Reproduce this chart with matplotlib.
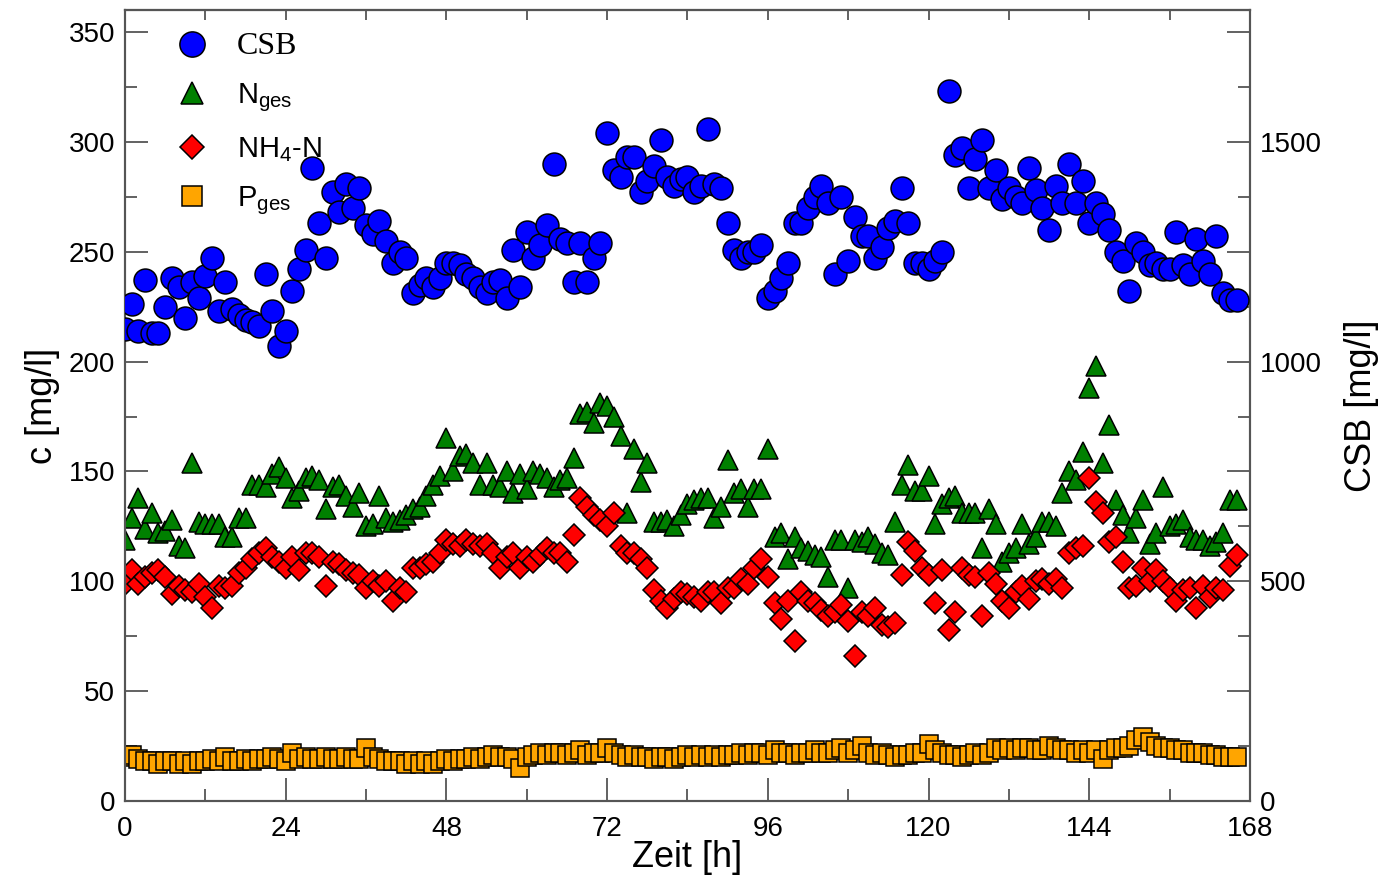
import numpy as np
import matplotlib
matplotlib.use('Agg')
import matplotlib.pyplot as plt
from matplotlib.ticker import MultipleLocator, FuncFormatter

plt.rcParams['font.family'] = ['Liberation Sans', 'DejaVu Sans']
plt.rcParams['mathtext.fontset'] = 'custom'
plt.rcParams['mathtext.rm'] = 'Liberation Sans'
plt.rcParams['mathtext.it'] = 'Liberation Sans:italic'
plt.rcParams['mathtext.bf'] = 'Liberation Sans:bold'

# CSB in mg/l (rechte Achse), stündlich ab 0 h
csb = [1075, 1130, 1070, 1185, 1065, 1065, 1125, 1190, 1170, 1100,
       1180, 1145, 1195, 1235, 1115, 1180, 1120, 1105, 1095, 1090,
       1080, 1200, 1115, 1035, 1070, 1160, 1210, 1255, 1440, 1315,
       1235, 1385, 1340, 1405, 1350, 1395, 1310, 1290, 1320, 1275,
       1225, 1250, 1235, 1155, 1175, 1190, 1170, 1190, 1225, 1225,
       1220, 1200, 1190, 1170, 1155, 1180, 1185, 1145, 1255, 1170,
       1295, 1235, 1265, 1310, 1450, 1280, 1270, 1180, 1270, 1180,
       1235, 1270, 1520, 1435, 1420, 1465, 1465, 1385, 1410, 1445,
       1505, 1420, 1400, 1415, 1420, 1385, 1400, 1530, 1405, 1395,
       1315, 1255, 1235, 1250, 1250, 1265, 1145, 1160, 1190, 1225,
       1315, 1315, 1350, 1375, 1400, 1360, 1200, 1375, 1230, 1330,
       1285, 1285, 1235, 1260, 1305, 1320, 1395, 1315, 1225, 1225,
       1210, 1230, 1250, 1615, 1470, 1485, 1395, 1460, 1505, 1395,
       1435, 1370, 1395, 1375, 1360, 1440, 1390, 1350, 1300, 1400,
       1360, 1450, 1360, 1410, 1315, 1360, 1335, 1300, 1250, 1230,
       1160, 1270, 1250, 1220, 1225, 1210, 1210, 1295, 1220, 1200,
       1280, 1230, 1200, 1285, 1155, 1140, 1140]

n_ges = [119, 129, 138, 124, 131, 122, 123, 128, 116, 115,
         154, 127, 126, 126, 126, 120, 120, 129, 129, 144,
         144, 143, 149, 152, 147, 138, 141, 147, 148, 146,
         133, 143, 144, 139, 134, 140, 125, 126, 139, 129,
         127, 128, 130, 133, 134, 139, 144, 148, 165, 150,
         157, 158, 154, 144, 154, 144, 143, 150, 140, 149,
         142, 150, 149, 147, 143, 146, 147, 156, 176, 177,
         172, 181, 180, 175, 166, 131, 160, 145, 154, 127,
         127, 128, 125, 130, 135, 137, 138, 138, 129, 134,
         155, 140, 142, 134, 142, 142, 160, 120, 122, 110,
         120, 115, 114, 112, 111, 102, 119, 119, 97, 119,
         118, 120, 117, 113, 112, 127, 144, 153, 141, 141,
         148, 126, 135, 138, 139, 131, 131, 131, 115, 133,
         126, 109, 113, 115, 126, 117, 120, 127, 127, 125,
         140, 150, 146, 159, 188, 198, 154, 171, 137, 130,
         122, 129, 137, 117, 122, 143, 125, 126, 128, 120,
         119, 119, 116, 118, 122, 137, 137]

nh4_n = [99, 105, 99, 102, 104, 105, 102, 94, 98, 96,
         95, 99, 93, 88, 98, 97, 98, 104, 106, 110,
         113, 115, 111, 109, 106, 111, 105, 113, 113, 111,
         98, 109, 108, 105, 104, 103, 97, 100, 98, 100,
         91, 97, 95, 106, 106, 108, 109, 113, 119, 117,
         116, 119, 117, 116, 117, 113, 106, 111, 113, 106,
         111, 109, 112, 115, 113, 113, 109, 121, 138, 134,
         130, 128, 125, 131, 116, 113, 113, 110, 106, 96,
         91, 88, 92, 95, 94, 93, 91, 95, 95, 90,
         97, 97, 101, 99, 106, 110, 102, 90, 83, 91,
         73, 95, 91, 90, 87, 84, 86, 89, 82, 66,
         86, 84, 88, 80, 79, 81, 103, 118, 114, 106,
         103, 90, 105, 78, 86, 106, 103, 102, 84, 104,
         99, 91, 88, 95, 98, 92, 100, 101, 99, 101,
         97, 113, 115, 116, 147, 136, 131, 118, 120, 109,
         97, 98, 106, 100, 105, 100, 97, 91, 96, 97,
         88, 98, 93, 97, 96, 107, 112]

p_ges = [20, 21, 19, 18, 18, 17, 18, 18, 17, 18,
         17, 18, 18, 19, 18, 20, 18, 18, 19, 18,
         19, 19, 20, 19, 18, 22, 19, 20, 19, 19,
         20, 19, 19, 20, 19, 19, 24, 20, 19, 18,
         18, 18, 17, 18, 17, 18, 17, 18, 19, 18,
         19, 19, 20, 19, 20, 21, 20, 20, 19, 15,
         20, 21, 22, 21, 22, 22, 21, 22, 23, 21,
         22, 22, 24, 22, 21, 20, 21, 20, 20, 19,
         20, 20, 19, 20, 21, 20, 21, 20, 21, 20,
         21, 21, 22, 21, 22, 22, 21, 23, 22, 22,
         21, 22, 22, 23, 22, 22, 23, 24, 22, 23,
         25, 22, 21, 22, 21, 20, 21, 21, 22, 22,
         26, 23, 22, 21, 21, 20, 21, 22, 21, 22,
         24, 23, 24, 23, 24, 24, 23, 23, 25, 24,
         23, 23, 22, 23, 22, 23, 19, 23, 24, 24,
         25, 28, 29, 27, 25, 24, 24, 23, 23, 22,
         22, 22, 21, 21, 20, 20, 20]

zeit = np.arange(len(csb))

frame = '#555555'

fig = plt.figure(figsize=(13.87, 8.86), dpi=100)
ax = fig.add_axes([0.0901, 0.0959, 0.8111, 0.8928])
ax2 = ax.twinx()

mk = dict(linestyle='none', markeredgecolor='black', markeredgewidth=1.1)
h_p, = ax.plot(zeit, p_ges, 's', ms=12.5, markerfacecolor='#ffa500', **mk)
h_n, = ax.plot(zeit, n_ges, '^', ms=15, markerfacecolor='#008000', **mk)
h_nh4, = ax.plot(zeit, nh4_n, 'D', ms=11.5, markerfacecolor='#ff0000', **mk)
h_csb, = ax2.plot(zeit, csb, 'o', ms=16.5, markerfacecolor='#0000ff', zorder=3, **mk)

ax.set_xlim(0, 168)
ax.set_ylim(0, 360)
ax2.set_ylim(0, 1800)

ax.xaxis.set_major_locator(MultipleLocator(24))
ax.xaxis.set_minor_locator(MultipleLocator(12))
ax.yaxis.set_major_locator(MultipleLocator(50))
ax.yaxis.set_minor_locator(MultipleLocator(25))
ax2.yaxis.set_major_locator(MultipleLocator(250))
ax2.yaxis.set_minor_locator(MultipleLocator(125))
ax2.yaxis.set_major_formatter(FuncFormatter(lambda v, p: f'{v:.0f}' if v % 500 == 0 else ''))

for a in (ax, ax2):
    a.tick_params(which='major', direction='in', length=16.5, width=1.3,
                  color=frame, labelsize=20, pad=7)
    a.tick_params(which='minor', direction='in', length=8.6, width=1.3, color=frame)
    for s in a.spines.values():
        s.set_color(frame)
        s.set_linewidth(1.5)
ax.tick_params(which='both', right=False, top=False)
ax.tick_params(axis='x', which='major', pad=11)
ax2.tick_params(which='both', left=False)

# kurze Striche oben
top = ax.secondary_xaxis('top')
top.set_xticks(np.arange(0, 169, 12))
top.tick_params(direction='in', length=7.5, width=1.3, color=frame, labeltop=False)
top.spines['top'].set_color(frame)
top.spines['top'].set_linewidth(1.5)

ax.set_xlabel('Zeit [h]', fontsize=26, labelpad=-2)
ax.set_ylabel('c [mg/l]', fontsize=26, labelpad=6)
ax2.set_ylabel('CSB [mg/l]', fontsize=26, labelpad=16)

leg = ax2.legend([h_csb, h_n, h_nh4, h_p],
                 ['CSB', r'N$_{\mathrm{ges}}$', r'NH$_{\mathrm{4}}$-N', r'P$_{\mathrm{ges}}$'],
                 loc='upper left', bbox_to_anchor=(0.049, 0.972), frameon=False,
                 fontsize=21, handlelength=0.85, handletextpad=1.1,
                 labelspacing=0.7, borderpad=0, borderaxespad=0, markerscale=1.1)
leg.set_zorder(1)
leg.get_texts()[0].set_fontfamily(['Liberation Serif', 'DejaVu Serif'])
leg.get_texts()[0].set_fontsize(23)

fig.savefig('out.png', dpi=100)
